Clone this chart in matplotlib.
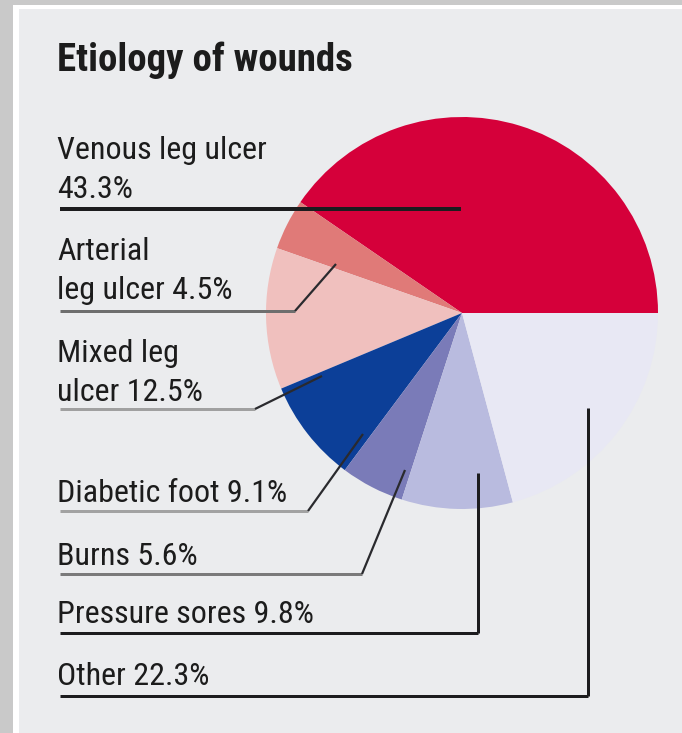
import matplotlib
matplotlib.use("Agg")
import matplotlib.pyplot as plt
from matplotlib.patches import Rectangle
from matplotlib import font_manager

# Wound etiology shares (%), as printed on the chart
categories = ["Venous leg ulcer", "Arterial leg ulcer", "Mixed leg ulcer",
              "Diabetic foot", "Burns", "Pressure sores", "Other"]
shares = [43.3, 4.5, 12.5, 9.1, 5.6, 9.8, 22.3]
label_texts = ["Venous leg ulcer\n43.3%", "Arterial\nleg ulcer 4.5%", "Mixed leg\nulcer 12.5%",
               "Diabetic foot 9.1%", "Burns 5.6%", "Pressure sores 9.8%", "Other 22.3%"]
title = "Etiology of wounds"

COLORS = ["#d5003a", "#e07a78", "#f0c0be", "#0c3f98", "#7a7bb8", "#b9bbdf", "#e8e8f4"]
PANEL = "#ebecee"
TEXT_COLOR = "#1c1c1c"

# pick a condensed face if one is installed
names = {f.name for f in font_manager.fontManager.ttflist}
FONT = "DejaVu Sans"
for cand in ["Roboto Condensed", "Liberation Sans Narrow", "DejaVu Sans Condensed"]:
    if cand in names:
        FONT = cand
        break
FAMILY = [FONT, "DejaVu Sans"]

W, H = 682, 733
fig = plt.figure(figsize=(W / 100, H / 100), dpi=100)
fig.patch.set_facecolor("#c9c9c9")

# background axes in pixel coordinates (y down)
bg = fig.add_axes([0, 0, 1, 1], zorder=0)
bg.set_xlim(0, W)
bg.set_ylim(H, 0)
bg.axis("off")
bg.add_patch(Rectangle((13, 5), W, H, facecolor="white", edgecolor="none"))
bg.add_patch(Rectangle((19, 9), W, H, facecolor=PANEL, edgecolor="none"))

# pie: centre (462, 313), radius 196 px
cx, cy, r = 462, 313, 196
pax = fig.add_axes([(cx - r) / W, 1 - (cy + r) / H, 2 * r / W, 2 * r / H], zorder=1)
pax.pie(shares, colors=COLORS, startangle=0, counterclock=True, radius=1,
        wedgeprops=dict(linewidth=0))
pax.set_xlim(-1, 1)
pax.set_ylim(-1, 1)
pax.axis("off")

# overlay for text and leader lines
ov = fig.add_axes([0, 0, 1, 1], zorder=2)
ov.set_xlim(0, W)
ov.set_ylim(H, 0)
ov.axis("off")
ov.patch.set_alpha(0)

ov.text(57, 71, title, fontsize=28, fontweight="bold", family=FAMILY,
        color=TEXT_COLOR, ha="left", va="baseline")

# label baselines (first line) and leader line paths
label_y = [159, 260, 362, 502, 565, 623, 685]
leaders = [
    ([60, 461], [209, 209], "#1c1c1e", 4),
    ([60, 295, 336], [311, 311, 264], "#6e6e6e", 3),
    ([60, 255, 322], [409, 409, 376], "#a0a0a0", 3),
    ([60, 308, 363], [511, 511, 434], "#a2a2a2", 3),
    ([60, 362, 405], [574, 574, 470], "#7a7a7a", 3),
    ([60, 478, 478], [633, 633, 473], "#1c1c1e", 3),
    ([60, 588, 588], [696, 696, 408], "#1c1c1e", 3),
]
DIAG = "#2a2a2e"
LINE_GAP = 39

for txt, y0, (xs, ys, col, lw) in zip(label_texts, label_y, leaders):
    for k, line in enumerate(txt.split("\n")):
        ov.text(57, y0 + k * LINE_GAP, line, fontsize=23, family=FAMILY,
                color=TEXT_COLOR, ha="left", va="baseline")
    ov.plot(xs[:2], ys[:2], color=col, lw=lw * 0.72, solid_capstyle="butt")
    if len(xs) > 2:
        if xs[1] == xs[2]:
            ov.plot(xs[1:], ys[1:], color=col, lw=lw * 0.72, solid_capstyle="butt")
        else:
            ov.plot(xs[1:], ys[1:], color=DIAG, lw=1.6, solid_capstyle="butt")

fig.savefig("out.png", dpi=100, facecolor=fig.get_facecolor())
